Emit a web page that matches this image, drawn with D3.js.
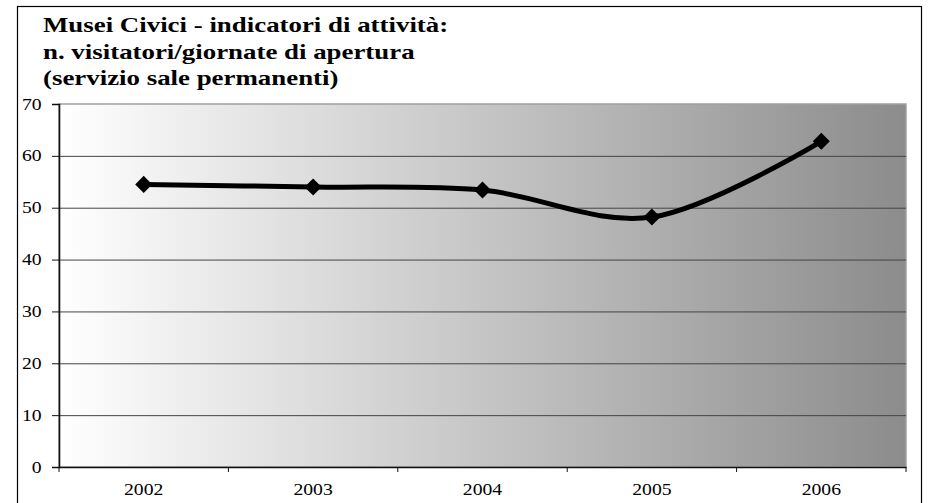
<!DOCTYPE html>
<html><head><meta charset="utf-8">
<script src="https://cdn.jsdelivr.net/npm/d3@7"></script>
<style>body{margin:0;background:#fff}svg{display:block}</style>
</head><body>
<svg id="c" width="928" height="503"></svg>
<script>
const categories = ["2002","2003","2004","2005","2006"];
const values = [54.5, 54.0, 53.4, 48.2, 62.8];
const yTicks = [0,10,20,30,40,50,60,70];
const titleLines = ["Musei Civici - indicatori di attività:","n. visitatori/giornate di apertura","(servizio sale permanenti)"];

const FONT="Liberation Serif";
const SX=1.23;
const svg = d3.select("#c");
const m={left:59,right:906,top:104,bottom:467};

svg.append("rect").attr("x",17.5).attr("y",6.5).attr("width",904).attr("height",510)
  .attr("fill","#fff").attr("stroke","#000").attr("stroke-width",1.2);

const defs=svg.append("defs");
const g=defs.append("linearGradient").attr("id","bg").attr("x1","0").attr("x2","1").attr("y1","0").attr("y2","0");
g.append("stop").attr("offset","0").attr("stop-color","#ffffff");
g.append("stop").attr("offset","1").attr("stop-color","#8c8c8c");

const x=d3.scaleBand().domain(categories).range([m.left,m.right]).padding(0);
const y=d3.scaleLinear().domain([0,70]).range([m.bottom,m.top]);

svg.append("rect").attr("x",m.left).attr("y",m.top).attr("width",m.right-m.left).attr("height",m.bottom-m.top)
  .attr("fill","url(#bg)").attr("stroke","#a0a0a0").attr("stroke-width",1.5);

svg.append("g").selectAll("line").data(yTicks.filter(d=>d>0 && d<70)).join("line")
  .attr("x1",m.left).attr("x2",m.right).attr("y1",d=>y(d)+0.5).attr("y2",d=>y(d)+0.5)
  .attr("stroke","#444").attr("stroke-width",1);

const yAxis=svg.append("g").attr("transform",`translate(${m.left},0)`)
  .call(d3.axisLeft(y).tickValues(yTicks).tickSize(7).tickPadding(7.2));
yAxis.select(".domain").attr("stroke","#111").attr("stroke-width",1.6);
yAxis.selectAll("line").attr("stroke","#111");
yAxis.selectAll("text").attr("font-family",FONT).attr("font-size",16).attr("fill","#000")
  .attr("transform",`scale(${SX},1)`);

const xAxis=svg.append("g").attr("transform",`translate(0,${m.bottom})`)
  .call(d3.axisBottom(x).tickSize(0).tickPadding(17));
xAxis.select(".domain").attr("stroke","#111").attr("stroke-width",1.6);
xAxis.selectAll("text").attr("font-family",FONT).attr("font-size",16).attr("fill","#000")
  .attr("transform",`scale(${SX},1)`);
const bounds=categories.map(c=>x(c)).concat([m.right]);
xAxis.selectAll("line.b").data(bounds).join("line").attr("class","b")
  .attr("x1",d=>d).attr("x2",d=>d).attr("y1",0).attr("y2",5).attr("stroke","#111").attr("stroke-width",1);

const line=d3.line().x((d,i)=>x(categories[i])+x.bandwidth()/2).y(d=>y(d)).curve(d3.curveCatmullRom.alpha(0));
svg.append("path").datum(values).attr("d",line).attr("fill","none").attr("stroke","#000").attr("stroke-width",5).attr("stroke-linejoin","round");

svg.append("g").selectAll("path").data(values).join("path")
  .attr("d",d3.symbol().type(d3.symbolSquare).size(145))
  .attr("transform",(d,i)=>`translate(${x(categories[i])+x.bandwidth()/2},${y(d)}) rotate(45)`)
  .attr("fill","#000");

svg.append("g").selectAll("text").data(titleLines).join("text")
  .attr("transform",(d,i)=>`translate(43,${32+i*26.5}) scale(1.25,1)`)
  .attr("font-family",FONT).attr("font-weight","bold").attr("font-size",21.5)
  .attr("fill","#000").text(d=>d);
</script>
</body></html>
